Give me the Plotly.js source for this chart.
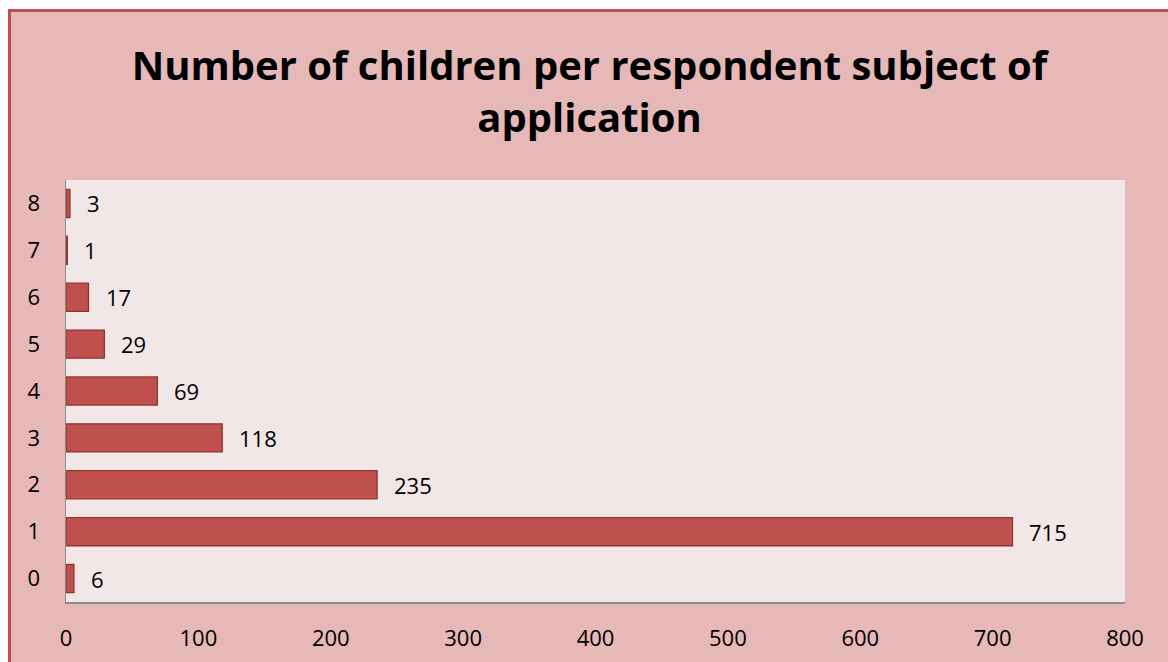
<!DOCTYPE html>
<html>
<head>
<meta charset="utf-8">
<script src="https://cdn.plot.ly/plotly-3.0.1.min.js"></script>
<style>
  html, body { margin: 0; padding: 0; background: #ffffff; width: 1168px; height: 662px; overflow: hidden; }
  #frame { position: absolute; left: 8px; top: 9px; width: 1157px; height: 650px;
           border-left: 3px solid #C0504D; border-top: 3px solid #C0504D; background: #E6B8B7; }
  #chart { width: 1157px; height: 650px; }
</style>
</head>
<body>
<div id="frame"><div id="chart"></div></div>
<script>
const categories = ["0", "1", "2", "3", "4", "5", "6", "7", "8"];
const counts = [6, 715, 235, 118, 69, 29, 17, 1, 3];
const xTicks = [0, 100, 200, 300, 400, 500, 600, 700, 800];
const titleText = "Number of children per respondent subject of<br>application";

const font = "Open Sans, Calibri, Liberation Sans, sans-serif";

const trace = {
  type: "bar",
  orientation: "h",
  x: counts,
  y: categories,
  width: 0.6,
  marker: { color: "#C0504D", line: { color: "#8E3532", width: 1.3 } },
  hoverinfo: "x+y"
};

const annotations = counts.map((v, i) => ({
  x: v, y: categories[i], xref: "x", yref: "y",
  text: String(v), showarrow: false,
  xanchor: "left", yanchor: "middle", xshift: 15,
  font: { family: font, size: 22, color: "#000000" }
}));

const layout = {
  width: 1157, height: 650,
  paper_bgcolor: "#E6B8B7",
  plot_bgcolor: "#F2E7E7",
  margin: { l: 55, r: 43, t: 168, b: 60 },
  title: {
    text: titleText,
    font: { family: font, size: 40, color: "#000000", weight: "bold" },
    x: 0.5, xanchor: "center", xref: "container",
    y: 0.895, yanchor: "top", yref: "container"
  },
  xaxis: {
    range: [0, 800], tickvals: xTicks, ticktext: xTicks.map(String),
    showgrid: false, zeroline: false,
    showline: true, linecolor: "#8C8C8C", linewidth: 1.5,
    ticks: "outside", ticklen: 16, tickcolor: "rgba(0,0,0,0)",
    tickfont: { family: font, size: 22, color: "#000000" },
    fixedrange: true
  },
  yaxis: {
    type: "category", categoryorder: "array", categoryarray: categories,
    range: [-0.5, 8.5],
    showgrid: false, zeroline: false,
    showline: true, linecolor: "#8C8C8C", linewidth: 1.5,
    ticks: "outside", ticklen: 20, tickcolor: "rgba(0,0,0,0)",
    tickfont: { family: font, size: 22, color: "#000000" },
    fixedrange: true
  },
  annotations: annotations,
  showlegend: false,
  bargap: 0.4
};

Plotly.newPlot("chart", [trace], layout, { displayModeBar: false, staticPlot: true });
</script>
</body>
</html>
